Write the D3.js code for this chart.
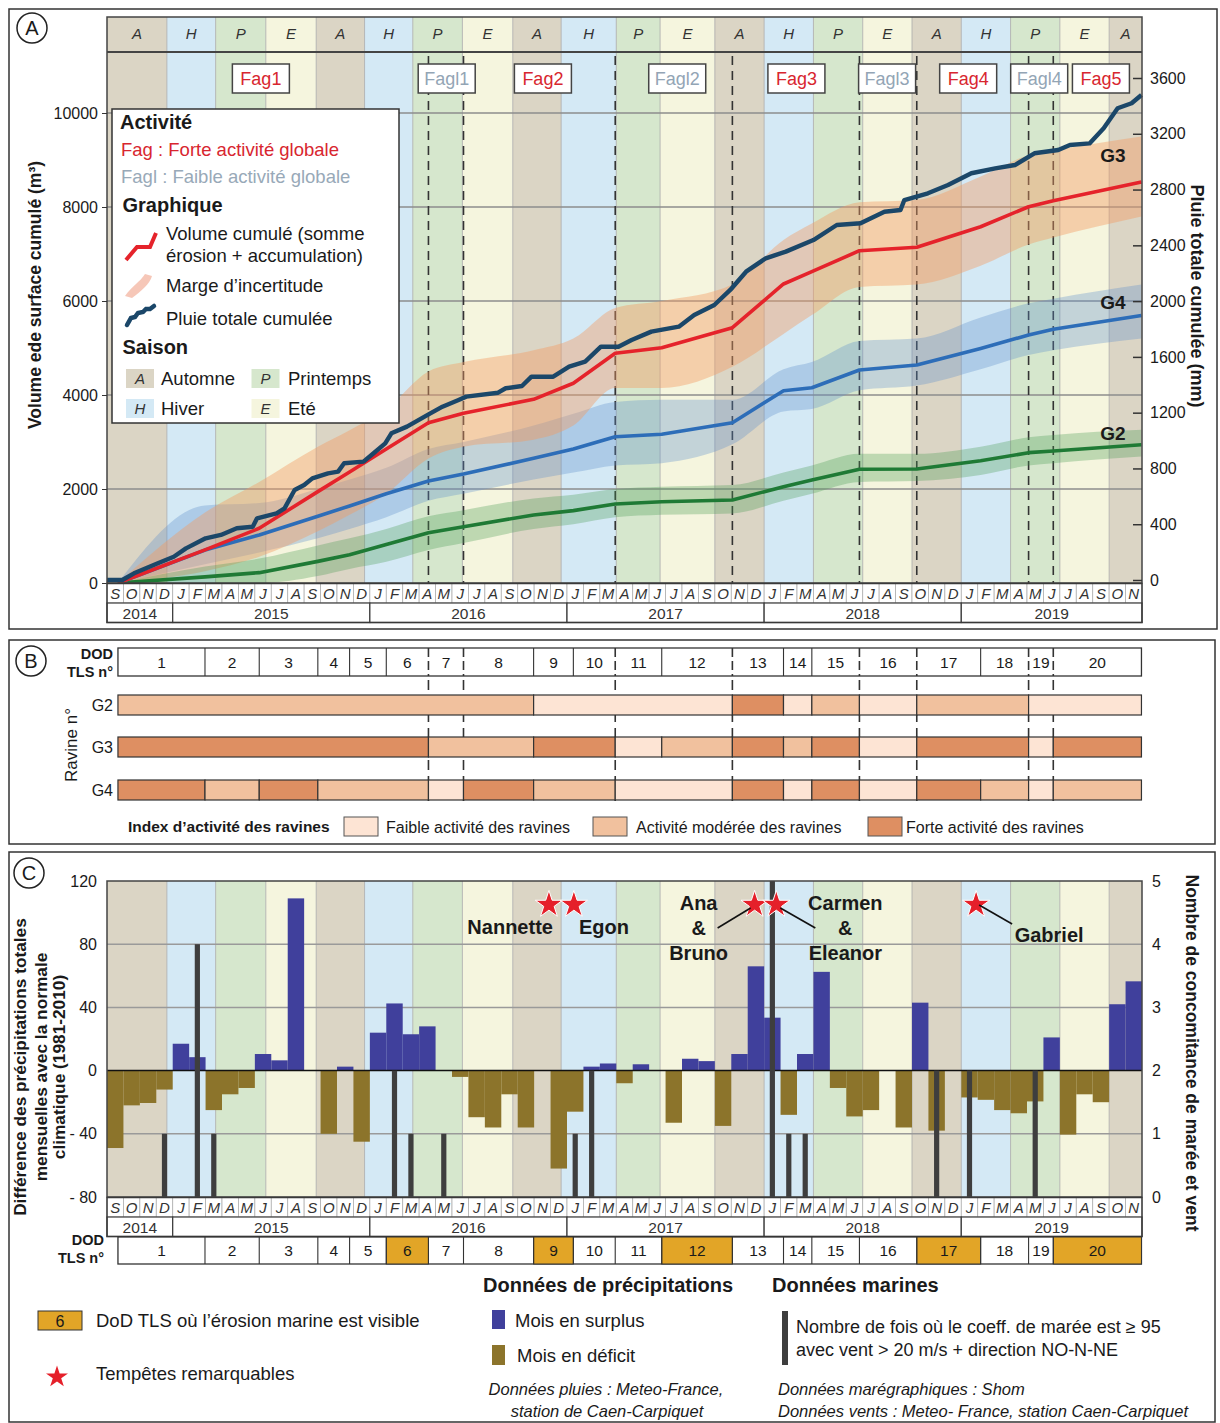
<!DOCTYPE html>
<html><head><meta charset="utf-8">
<script src="https://cdn.jsdelivr.net/npm/d3@7"></script>
<style>
body{margin:0;background:#fff}
svg text{font-family:"Liberation Sans",Arial,Helvetica,sans-serif}
</style>
</head><body>
<svg id="chart" width="1220" height="1423" fill="#1a1a1a"></svg>
<script>
// ---------------- DATA ----------------
const axisStart = "2014-09-01", axisEnd = "2019-12-01";
const monthInitials = ["J","F","M","A","M","J","J","A","S","O","N","D"];
const yearLabels = ["2014","2015","2016","2017","2018","2019"];
const seasonStarts = ["2014-09-01","2014-12-21","2015-03-20","2015-06-21","2015-09-23","2015-12-22","2016-03-20","2016-06-20","2016-09-22","2016-12-21","2017-04-01","2017-06-21","2017-10-01","2018-01-01","2018-04-01","2018-07-01","2018-10-01","2019-01-01","2019-04-01","2019-07-01","2019-10-01"];
const seasonCodes = ["A","H","P","E","A","H","P","E","A","H","P","E","A","H","P","E","A","H","P","E","A"];
const seasonNames = {A:"Automne",H:"Hiver",P:"Printemps",E:"Eté"};
const dodBounds = ["2014-09-21","2015-02-28","2015-06-09","2015-09-26","2015-11-24","2016-02-01","2016-04-18","2016-06-22","2016-10-31","2017-01-13","2017-03-30","2017-06-24","2017-11-03","2018-02-06","2018-03-29","2018-06-25","2018-10-10","2019-02-06","2019-05-04","2019-06-19","2019-11-30"];
const dodNumbers = ["1","2","3","4","5","6","7","8","9","10","11","12","13","14","15","16","17","18","19","20"];
const faglBounds = ["2016-04-18","2016-06-22","2017-03-30","2017-11-03","2018-06-25","2018-10-10","2019-05-04","2019-06-19"];
const activityNames = ["Fag1","Fagl1","Fag2","Fagl2","Fag3","Fagl3","Fag4","Fagl4","Fag5"];
const activityDates = ["2015-06-12","2016-05-22","2016-11-17","2017-07-23","2018-02-28","2018-08-16","2019-01-14","2019-05-24","2019-09-16"];
// cumulative volumes (m3) at DoD boundaries
const volG3 = [0,705,1164,1944,2360,2849,3411,3611,3908,4250,4887,5006,5432,6362,6623,7070,7142,7580,8006,8134,8530];
const volG3Low = [0,250,560,1100,1450,1900,2650,2900,3050,3350,4150,4150,4600,5300,5700,6300,6350,6750,7200,7350,7800];
const volG3High = [0,1500,2150,2900,3250,3700,4500,4700,4950,5200,5850,6000,6350,7300,7650,8100,8150,8650,9100,9200,9500];
const volG4 = [0,700,1021,1420,1640,1900,2170,2319,2653,2850,3113,3164,3411,4091,4155,4532,4638,4990,5277,5398,5690];
const volG4Low = [0,400,650,950,1150,1400,1750,1900,2200,2350,2500,2550,2950,3650,3700,4100,4200,4550,4850,4950,5200];
const volG4High = [0,1650,1700,2000,2200,2450,2850,3000,3350,3600,3850,3900,3900,4550,4700,5150,5200,5650,5950,6050,6350];
const volG2 = [0,130,220,460,600,820,1070,1198,1447,1540,1681,1730,1766,2050,2191,2419,2426,2600,2773,2809,2940];
const volG2Low = [0,0,0,150,300,450,700,850,1150,1250,1400,1450,1480,1750,1900,2150,2170,2300,2500,2550,2690];
const volG2High = [0,350,520,800,950,1150,1420,1550,1800,1880,2000,2050,2085,2350,2500,2750,2750,2900,3100,3150,3260];
// cumulative rain (mm)
const rainDates = ["2014-09-01","2014-09-29","2014-10-21","2014-12-04","2015-01-03","2015-01-26","2015-03-01","2015-03-30","2015-04-28","2015-05-28","2015-06-05","2015-07-11","2015-07-26","2015-08-14","2015-09-01","2015-09-16","2015-10-15","2015-11-03","2015-11-14","2015-12-20","2016-01-08","2016-01-30","2016-02-10","2016-03-09","2016-04-19","2016-05-14","2016-06-13","2016-06-27","2016-08-26","2016-09-09","2016-10-09","2016-10-27","2016-12-06","2017-01-05","2017-02-04","2017-03-03","2017-04-05","2017-04-29","2017-06-05","2017-07-26","2017-08-24","2017-09-30","2017-10-30","2017-11-28","2018-01-04","2018-02-10","2018-04-01","2018-05-14","2018-06-27","2018-08-11","2018-09-10","2018-09-17","2018-10-31","2018-12-07","2019-01-20","2019-03-03","2019-04-09","2019-05-15","2019-06-28","2019-07-20","2019-08-26","2019-09-21","2019-10-17","2019-11-12","2019-11-30"];
const rainCum = [0,0,48,120,167,227,299,323,371,382,442,478,514,645,681,729,765,777,837,849,909,980,1052,1100,1189,1243,1291,1315,1343,1375,1391,1458,1458,1530,1566,1673,1673,1721,1781,1817,1901,1972,2080,2211,2307,2355,2438,2546,2558,2641,2653,2725,2773,2833,2917,2952,2976,3060,3084,3120,3131,3239,3383,3419,3478];
// ravine activity index per DoD: 0 faible, 1 modérée, 2 forte
const ravineNames = ["G2","G3","G4"];
const activityG2 = [1,1,1,1,1,1,1,1,0,0,0,0,2,0,1,0,1,1,0,0];
const activityG3 = [2,2,2,2,2,2,1,1,2,2,0,1,2,1,2,0,2,2,0,2];
const activityG4 = [2,1,2,1,1,1,0,2,1,1,0,0,2,0,2,0,2,1,0,1];
const activityLevels = ["Faible activité des ravines","Activité modérée des ravines","Forte activité des ravines"];
// monthly precipitation anomaly vs 1981-2010 normal (mm), Sep 2014 -> Nov 2019
const precipAnomaly = [-49,-22,-20.5,-12,17,8.5,-25,-15,-11,10.5,6.5,109,0,-40,2.5,-45,24,42.5,23,28,0,-4,-29.5,-36,-15,-36,0,-62,-26,2.5,4.5,-8,4,0,-33,7.5,6,-35,10.5,66,33.5,-28,10.5,62.5,-11,-29,-25,0,-36,43,-38,0,-17,-18.5,-25,-27,-19.5,21,-40.5,-15,-20,42,56.5];
// tide coeff >= 95 with wind > 20 m/s NO-N-NE: month, count
const tideMonths = ["2014-12","2015-02","2015-03","2016-02","2016-03","2016-05","2017-01","2017-02","2018-01","2018-02","2018-03","2018-11","2019-01","2019-05"];
const tideCounts = [1,4,1,2,1,1,1,2,5,1,1,2,2,2];
const marineErosionDoD = ["6","9","12","17","20"];
const stormNames = ["Nannette","Egon","Ana & Bruno","Carmen & Eleanor","Gabriel"];
const stormDates = ["2016-11-28","2017-01-14","2017-12-14","2018-01-24","2019-01-29"];

// ---------------- SETUP ----------------
const svg = d3.select("#chart");
svg.append("rect").attr("width",1220).attr("height",1423).attr("fill","#fff");
const parse = d3.timeParse("%Y-%m-%d");
const parseM = d3.timeParse("%Y-%m");
function mIdx(d){const y=d.getFullYear(),m=d.getMonth();const dim=new Date(y,m+1,0).getDate();return (y-2014)*12+m-8+(d.getDate()-1)/dim;}
const xm = d3.scaleLinear().domain([0, mIdx(parse(axisEnd))]).range([107,1142]);
const X = s => xm(mIdx(typeof s==="string"?parse(s):s));
const months = d3.timeMonth.range(parse(axisStart), parse(axisEnd));
const seasonColor = {A:"#dbd5c5",H:"#d4e9f5",P:"#d6e7cd",E:"#f5f5de"};
const FONT_DARK="#1a1a1a", LINE="#3a3a3a";

function drawSeasons(g,y0,y1){
  seasonStarts.forEach((s,i)=>{
    const x0=X(s), x1=X(i<seasonStarts.length-1?seasonStarts[i+1]:axisEnd);
    g.append("rect").attr("x",x0).attr("y",y0).attr("width",x1-x0).attr("height",y1-y0).attr("fill",seasonColor[seasonCodes[i]]);
  });
  seasonStarts.slice(1).forEach(s=>{
    g.append("line").attr("x1",X(s)).attr("x2",X(s)).attr("y1",y0).attr("y2",y1).attr("stroke","#a9a9a9").attr("stroke-width",0.8);
  });
}
function drawTimeRows(g,y0){
  const hM=19.5,hY=19.5;
  months.forEach((d,i)=>{
    const x0=xm(i),x1=xm(i+1);
    g.append("rect").attr("x",x0).attr("y",y0).attr("width",x1-x0).attr("height",hM).attr("fill","#fff").attr("stroke","#b0b0b0").attr("stroke-width",0.8);
    g.append("text").attr("x",(x0+x1)/2).attr("y",y0+15.5).attr("text-anchor","middle").attr("font-size",15).attr("font-style","italic").attr("fill","#333").text(monthInitials[d.getMonth()]);
  });
  yearLabels.forEach(yl=>{
    const a=Math.max(0,mIdx(new Date(+yl,0,1))), b=Math.min(xm.domain()[1],mIdx(new Date(+yl+1,0,1)));
    const x0=xm(a),x1=xm(b);
    g.append("rect").attr("x",x0).attr("y",y0+hM).attr("width",x1-x0).attr("height",hY).attr("fill","#fff").attr("stroke",LINE).attr("stroke-width",1.2);
    g.append("text").attr("x",(x0+x1)/2).attr("y",y0+hM+15.5).attr("text-anchor","middle").attr("font-size",15.5).attr("fill","#333").text(yl);
  });
  g.append("rect").attr("x",107).attr("y",y0).attr("width",1035).attr("height",hM+hY).attr("fill","none").attr("stroke",LINE).attr("stroke-width",1.5);
}
function circleLabel(cx,cy,t){
  svg.append("circle").attr("cx",cx).attr("cy",cy).attr("r",15).attr("fill","#fff").attr("stroke","#222").attr("stroke-width",1.5);
  svg.append("text").attr("x",cx).attr("y",cy+7).attr("text-anchor","middle").attr("font-size",20).text(t);
}

// ================= PANEL A =================
const A = svg.append("g");
A.append("rect").attr("x",9).attr("y",9).attr("width",1208).attr("height",620).attr("fill","#fff").attr("stroke","#333").attr("stroke-width",1.5);
const yL = d3.scaleLinear().domain([0,10000]).range([583,113]);
const yR = d3.scaleLinear().domain([0,3600]).range([580,78]);
drawSeasons(A,17,583);
seasonStarts.forEach((s,i)=>{
  const x0=X(s), x1=X(i<seasonStarts.length-1?seasonStarts[i+1]:axisEnd);
  A.append("text").attr("x",(x0+x1)/2).attr("y",39).attr("text-anchor","middle").attr("font-size",15).attr("font-style","italic").attr("fill","#333").text(seasonCodes[i]);
});
A.append("line").attr("x1",107).attr("x2",1142).attr("y1",52).attr("y2",52).attr("stroke","#444").attr("stroke-width",2);
[2000,4000,6000,8000,10000].forEach(v=>{
  A.append("line").attr("x1",107).attr("x2",1142).attr("y1",yL(v)).attr("y2",yL(v)).attr("stroke","#8c8c8c").attr("stroke-width",1.5);
});
faglBounds.forEach(s=>{
  A.append("line").attr("x1",X(s)).attr("x2",X(s)).attr("y1",56).attr("y2",583).attr("stroke","#333").attr("stroke-width",1.6).attr("stroke-dasharray","9,6");
});
function bandArea(low,high){
  return d3.area().x((d,i)=>X(dodBounds[i])).y0((d,i)=>yL(low[i])).y1((d,i)=>yL(high[i])).curve(d3.curveMonotoneX)(low);
}
A.append("path").attr("d",bandArea(volG4Low,volG4High)).attr("fill","#5f8fcc").attr("opacity",0.33);
A.append("path").attr("d",bandArea(volG3Low,volG3High)).attr("fill","#f29a62").attr("opacity",0.42);
A.append("path").attr("d",bandArea(volG2Low,volG2High)).attr("fill","#4a9a55").attr("opacity",0.32);
const volLine = arr => d3.line().x((d,i)=>X(dodBounds[i])).y(d=>yL(d))(arr);
A.append("path").attr("d",volLine(volG2)).attr("fill","none").attr("stroke","#1f7a35").attr("stroke-width",3.6).attr("stroke-linejoin","round");
A.append("path").attr("d",volLine(volG4)).attr("fill","none").attr("stroke","#2d6db8").attr("stroke-width",3.6).attr("stroke-linejoin","round");
A.append("path").attr("d",volLine(volG3)).attr("fill","none").attr("stroke","#e5232b").attr("stroke-width",3.6).attr("stroke-linejoin","round");
const rainLine = d3.line().x((d,i)=>X(rainDates[i])).y(d=>yR(d));
A.append("path").attr("d",rainLine(rainCum)).attr("fill","none").attr("stroke","#1b4769").attr("stroke-width",4.4).attr("stroke-linejoin","round");
A.append("rect").attr("x",107).attr("y",17).attr("width",1035).attr("height",566).attr("fill","none").attr("stroke","#444").attr("stroke-width",1.5);
[["G3",162],["G4",309],["G2",440]].forEach(([n,yy])=>{
  A.append("text").attr("x",1113).attr("y",yy).attr("text-anchor","middle").attr("font-size",19).attr("font-weight","bold").text(n);
});
activityNames.forEach((n,i)=>{
  const cx=X(activityDates[i]);
  A.append("rect").attr("x",cx-28.5).attr("y",64).attr("width",57).attr("height",29).attr("fill","#fff").attr("stroke","#444").attr("stroke-width",1.5);
  A.append("text").attr("x",cx).attr("y",85).attr("text-anchor","middle").attr("font-size",18).attr("fill",n.startsWith("Fagl")?"#93a5b5":"#d8262f").text(n);
});
const axL = A.append("g").attr("transform","translate(107,0)").call(d3.axisLeft(yL).tickValues([0,2000,4000,6000,8000,10000]).tickSize(5).tickPadding(4).tickFormat(d3.format("d")));
axL.select(".domain").remove();
axL.selectAll("text").attr("font-size",16).attr("fill",FONT_DARK).style("font-family","Liberation Sans, Arial, sans-serif");
axL.selectAll("line").attr("stroke","#333");
const axR = A.append("g").attr("transform","translate(1142,0)").call(d3.axisRight(yR).tickValues(d3.range(0,3601,400)).tickSize(-9).tickPadding(8).tickFormat(d3.format("d")));
axR.select(".domain").remove();
axR.selectAll("text").attr("font-size",16).attr("fill",FONT_DARK).style("font-family","Liberation Sans, Arial, sans-serif");
axR.selectAll("line").attr("stroke","#333").attr("stroke-width",1.5);
drawTimeRows(A,583.5);
A.append("text").attr("transform","translate(41,295) rotate(-90)").attr("text-anchor","middle").attr("font-size",17.5).attr("font-weight","bold").text("Volume ede surface cumulé (m³)");
A.append("text").attr("transform","translate(1191,296) rotate(90)").attr("text-anchor","middle").attr("font-size",18).attr("font-weight","bold").text("Pluie totale cumulée (mm)");
const L = A.append("g");
L.append("rect").attr("x",112).attr("y",109).attr("width",287).attr("height",314).attr("fill","#fff").attr("stroke","#333").attr("stroke-width",1.5);
L.append("text").attr("x",120).attr("y",129).attr("font-size",20).attr("font-weight","bold").text("Activité");
L.append("text").attr("x",121).attr("y",156).attr("font-size",18.5).attr("fill","#d8262f").text("Fag : Forte activité globale");
L.append("text").attr("x",121).attr("y",183).attr("font-size",18.5).attr("fill","#98a9b8").text("Fagl : Faible activité globale");
L.append("text").attr("x",122.5).attr("y",212).attr("font-size",20).attr("font-weight","bold").text("Graphique");
L.append("path").attr("d","M126,260 L137,247 L150,247 L156,233").attr("fill","none").attr("stroke","#e5232b").attr("stroke-width",4);
L.append("text").attr("x",166).attr("y",240).attr("font-size",18.5).text("Volume cumulé (somme");
L.append("text").attr("x",166).attr("y",262).attr("font-size",18.5).text("érosion + accumulation)");
L.append("path").attr("d","M125,296 C132,286 140,282 145,274 L152,276 C150,284 140,292 132,298 Z").attr("fill","#f4b9a6").attr("opacity",0.8);
L.append("text").attr("x",166).attr("y",292).attr("font-size",18.5).text("Marge d’incertitude");
L.append("path").attr("d","M127,325 L131,318 L135,317 L138,313 L143,312 L146,309 L150,309 L154,306").attr("fill","none").attr("stroke","#1b4769").attr("stroke-width",4.5).attr("stroke-linecap","round");
L.append("text").attr("x",166).attr("y",325).attr("font-size",18.5).text("Pluie totale cumulée");
L.append("text").attr("x",122.5).attr("y",354).attr("font-size",20).attr("font-weight","bold").text("Saison");
[["A",126,369,161],["P",251.5,369,288],["H",126,399,161],["E",251.5,399,288]].forEach(([c,bx,by,tx])=>{
  L.append("rect").attr("x",bx).attr("y",by).attr("width",28).attr("height",19).attr("fill",seasonColor[c]);
  L.append("text").attr("x",bx+14).attr("y",by+15).attr("text-anchor","middle").attr("font-size",15).attr("font-style","italic").attr("fill","#333").text(c);
  L.append("text").attr("x",tx).attr("y",by+16).attr("font-size",18.5).text(seasonNames[c]);
});
circleLabel(32,28,"A");

// ================= PANEL B =================
const B = svg.append("g");
B.append("rect").attr("x",9).attr("y",640).attr("width",1206).attr("height",204).attr("fill","#fff").attr("stroke","#333").attr("stroke-width",1.5);
circleLabel(31,661,"B");
const dX = i => X(dodBounds[i]);
faglBounds.forEach(s=>{
  B.append("line").attr("x1",X(s)).attr("x2",X(s)).attr("y1",648).attr("y2",801).attr("stroke","#333").attr("stroke-width",1.6).attr("stroke-dasharray","10,6");
});
B.append("rect").attr("x",dX(0)).attr("y",648).attr("width",dX(20)-dX(0)).attr("height",28).attr("fill","#fff").attr("stroke","#333").attr("stroke-width",1.3);
dodNumbers.forEach((n,i)=>{
  if(i>0){
    const isDash = faglBounds.includes(dodBounds[i]);
    B.append("line").attr("x1",dX(i)).attr("x2",dX(i)).attr("y1",648).attr("y2",676).attr("stroke","#333").attr("stroke-width",isDash?1.6:1.1).attr("stroke-dasharray",isDash?"9,4":null);
  }
  B.append("text").attr("x",(dX(i)+dX(i+1))/2).attr("y",668).attr("text-anchor","middle").attr("font-size",15.5).text(n);
});
B.append("text").attr("x",113).attr("y",659).attr("text-anchor","end").attr("font-size",14.5).attr("font-weight","bold").text("DOD");
B.append("text").attr("x",113).attr("y",677).attr("text-anchor","end").attr("font-size",14.5).attr("font-weight","bold").text("TLS n°");
const levelColor = ["#fde4d4","#f1c19e","#de8f62"];
const rows = [[activityG2,695],[activityG3,737],[activityG4,780]];
rows.forEach(([arr,y],r)=>{
  let start=0;
  for(let i=1;i<=arr.length;i++){
    if(i===arr.length || arr[i]!==arr[start]){
      B.append("rect").attr("x",dX(start)).attr("y",y).attr("width",dX(i)-dX(start)).attr("height",20).attr("fill",levelColor[arr[start]]).attr("stroke","#333").attr("stroke-width",1.2);
      start=i;
    }
  }
  B.append("text").attr("x",113).attr("y",y+16).attr("text-anchor","end").attr("font-size",16).text(ravineNames[r]);
});
B.append("text").attr("transform","translate(77,745) rotate(-90)").attr("text-anchor","middle").attr("font-size",17).text("Ravine n°");
B.append("text").attr("x",128).attr("y",832).attr("font-size",15.5).attr("font-weight","bold").text("Index d’activité des ravines");
[[344,386],[593,636],[868,906]].forEach(([bx,tx],k)=>{
  B.append("rect").attr("x",bx).attr("y",817).attr("width",34).attr("height",19).attr("fill",levelColor[k]).attr("stroke","#555").attr("stroke-width",1);
  B.append("text").attr("x",tx).attr("y",833).attr("font-size",16).text(activityLevels[k]);
});

// ================= PANEL C =================
const C = svg.append("g");
C.append("rect").attr("x",9).attr("y",852).attr("width",1206).attr("height",570).attr("fill","#fff").attr("stroke","#333").attr("stroke-width",1.5);
circleLabel(29,873,"C");
const yC = d3.scaleLinear().domain([-80,120]).range([1197,881]);
const yN = d3.scaleLinear().domain([0,5]).range([1197,881]);
drawSeasons(C,881,1197);
[80,40,-40].forEach(v=>{
  C.append("line").attr("x1",107).attr("x2",1142).attr("y1",yC(v)).attr("y2",yC(v)).attr("stroke","#9a9a9a").attr("stroke-width",1.5);
});
precipAnomaly.forEach((v,i)=>{
  if(v===0) return;
  const x0=xm(i),x1=xm(i+1);
  C.append("rect").attr("x",x0).attr("width",x1-x0).attr("y",yC(Math.max(0,v))).attr("height",Math.abs(yC(v)-yC(0))).attr("fill",v>0?"#40409c":"#8c742b");
});
C.append("line").attr("x1",107).attr("x2",1142).attr("y1",yC(0)).attr("y2",yC(0)).attr("stroke","#111").attr("stroke-width",1.5);
tideMonths.forEach((m,i)=>{
  const d=parseM(m); const c=xm(mIdx(d)+0.5);
  C.append("rect").attr("x",c-2.6).attr("width",5.2).attr("y",yN(tideCounts[i])).attr("height",yN(0)-yN(tideCounts[i])).attr("fill","#3e3e3e");
});
C.append("rect").attr("x",107).attr("y",881).attr("width",1035).attr("height",316).attr("fill","none").attr("stroke","#444").attr("stroke-width",1.5);
const starPath = d3.symbol().type(d3.symbolStar).size(230)();
const stormY = yC(105);
stormDates.forEach((s,i)=>{
  C.append("path").attr("d",starPath).attr("transform",`translate(${X(s)},${stormY})`).attr("fill","#e5202a").attr("stroke","#fff").attr("stroke-width",1);
});
const sx = i => X(stormDates[i]);
function boldText(x,y,t,anchor){C.append("text").attr("x",x).attr("y",y).attr("text-anchor",anchor||"middle").attr("font-size",20).attr("font-weight","bold").text(t);}
boldText(sx(0)+4,934,stormNames[0],"end");
boldText(sx(1)+5,934,stormNames[1],"start");
const ab = stormNames[2].split(" ");
boldText(sx(2)-56,910,ab[0]); boldText(sx(2)-56,935,ab[1]); boldText(sx(2)-56,960,ab[2]);
const ce = stormNames[3].split(" ");
boldText(sx(3)+69,910,ce[0]); boldText(sx(3)+69,935,ce[1]); boldText(sx(3)+69,960,ce[2]);
boldText(sx(4)+73,942,stormNames[4]);
C.append("line").attr("x1",sx(2)-37).attr("y1",928).attr("x2",sx(2)-4).attr("y2",908).attr("stroke","#111").attr("stroke-width",1.6);
C.append("line").attr("x1",sx(3)+4).attr("y1",908).attr("x2",sx(3)+39).attr("y2",928).attr("stroke","#111").attr("stroke-width",1.6);
C.append("line").attr("x1",sx(4)+3).attr("y1",905).attr("x2",sx(4)+36).attr("y2",924).attr("stroke","#111").attr("stroke-width",1.6);
const axCL = C.append("g").attr("transform","translate(107,0)").call(d3.axisLeft(yC).tickValues([-80,-40,0,40,80,120]).tickSize(0).tickPadding(10).tickFormat(d=>d<0?"- "+Math.abs(d):d));
axCL.select(".domain").remove();
axCL.selectAll("text").attr("font-size",16).attr("fill",FONT_DARK).style("font-family","Liberation Sans, Arial, sans-serif");
const axCR = C.append("g").attr("transform","translate(1142,0)").call(d3.axisRight(yN).tickValues([0,1,2,3,4,5]).tickSize(0).tickPadding(10).tickFormat(d3.format("d")));
axCR.select(".domain").remove();
axCR.selectAll("text").attr("font-size",16).attr("fill",FONT_DARK).style("font-family","Liberation Sans, Arial, sans-serif");
drawTimeRows(C,1197.5);
C.append("rect").attr("x",dX(0)).attr("y",1237).attr("width",dX(20)-dX(0)).attr("height",27).attr("fill","#fff").attr("stroke","#333").attr("stroke-width",1.3);
dodNumbers.forEach((n,i)=>{
  if(marineErosionDoD.includes(n)) C.append("rect").attr("x",dX(i)).attr("y",1237).attr("width",dX(i+1)-dX(i)).attr("height",27).attr("fill","#e2a527").attr("stroke","#333").attr("stroke-width",1);
  if(i>0) C.append("line").attr("x1",dX(i)).attr("x2",dX(i)).attr("y1",1237).attr("y2",1264).attr("stroke","#333").attr("stroke-width",1.1);
  C.append("text").attr("x",(dX(i)+dX(i+1))/2).attr("y",1256).attr("text-anchor","middle").attr("font-size",15.5).text(n);
});
C.append("text").attr("x",104).attr("y",1245).attr("text-anchor","end").attr("font-size",14.5).attr("font-weight","bold").text("DOD");
C.append("text").attr("x",104).attr("y",1263).attr("text-anchor","end").attr("font-size",14.5).attr("font-weight","bold").text("TLS n°");
[["Différence des précipitations totales",26],["mensuelles avec la normale",47],["climatique (1981-2010)",65]].forEach(([t,bx])=>{
  C.append("text").attr("transform",`translate(${bx},1067) rotate(-90)`).attr("text-anchor","middle").attr("font-size",17.3).attr("font-weight","bold").text(t);
});
C.append("text").attr("transform","translate(1186,1053) rotate(90)").attr("text-anchor","middle").attr("font-size",17.5).attr("font-weight","bold").text("Nombre de concomitance de marée et vent");
C.append("text").attr("x",483).attr("y",1292).attr("font-size",20).attr("font-weight","bold").text("Données de précipitations");
C.append("text").attr("x",772).attr("y",1292).attr("font-size",20).attr("font-weight","bold").text("Données marines");
C.append("rect").attr("x",38).attr("y",1311).attr("width",44).attr("height",19).attr("fill","#e2a527").attr("stroke","#333").attr("stroke-width",1);
C.append("text").attr("x",60).attr("y",1327).attr("text-anchor","middle").attr("font-size",16).text(marineErosionDoD[0]);
C.append("text").attr("x",96).attr("y",1327).attr("font-size",18.5).text("DoD TLS où l’érosion marine est visible");
C.append("path").attr("d",d3.symbol().type(d3.symbolStar).size(150)()).attr("transform","translate(57,1377)").attr("fill","#e5202a");
C.append("text").attr("x",96).attr("y",1380).attr("font-size",18.5).text("Tempêtes remarquables");
C.append("rect").attr("x",492).attr("y",1310).attr("width",13).attr("height",19).attr("fill","#40409c");
C.append("text").attr("x",515).attr("y",1327).attr("font-size",18.5).text("Mois en surplus");
C.append("rect").attr("x",492).attr("y",1345).attr("width",13).attr("height",20).attr("fill","#8c742b");
C.append("text").attr("x",517).attr("y",1362).attr("font-size",18.5).text("Mois en déficit");
C.append("rect").attr("x",782).attr("y",1311).attr("width",6).attr("height",54).attr("fill","#3e3e3e");
C.append("text").attr("x",796).attr("y",1333).attr("font-size",18).text("Nombre de fois où le coeff. de marée est ≥ 95");
C.append("text").attr("x",796).attr("y",1356).attr("font-size",18).text("avec vent > 20 m/s + direction NO-N-NE");
C.append("text").attr("x",606).attr("y",1395).attr("text-anchor","middle").attr("font-size",16.5).attr("font-style","italic").text("Données pluies : Meteo-France,");
C.append("text").attr("x",607).attr("y",1417).attr("text-anchor","middle").attr("font-size",16.5).attr("font-style","italic").text("station de Caen-Carpiquet");
C.append("text").attr("x",778).attr("y",1395).attr("font-size",16.5).attr("font-style","italic").text("Données marégraphiques : Shom");
C.append("text").attr("x",778).attr("y",1417).attr("font-size",16.5).attr("font-style","italic").text("Données vents : Meteo- France, station Caen-Carpiquet");
</script>
</body></html>
